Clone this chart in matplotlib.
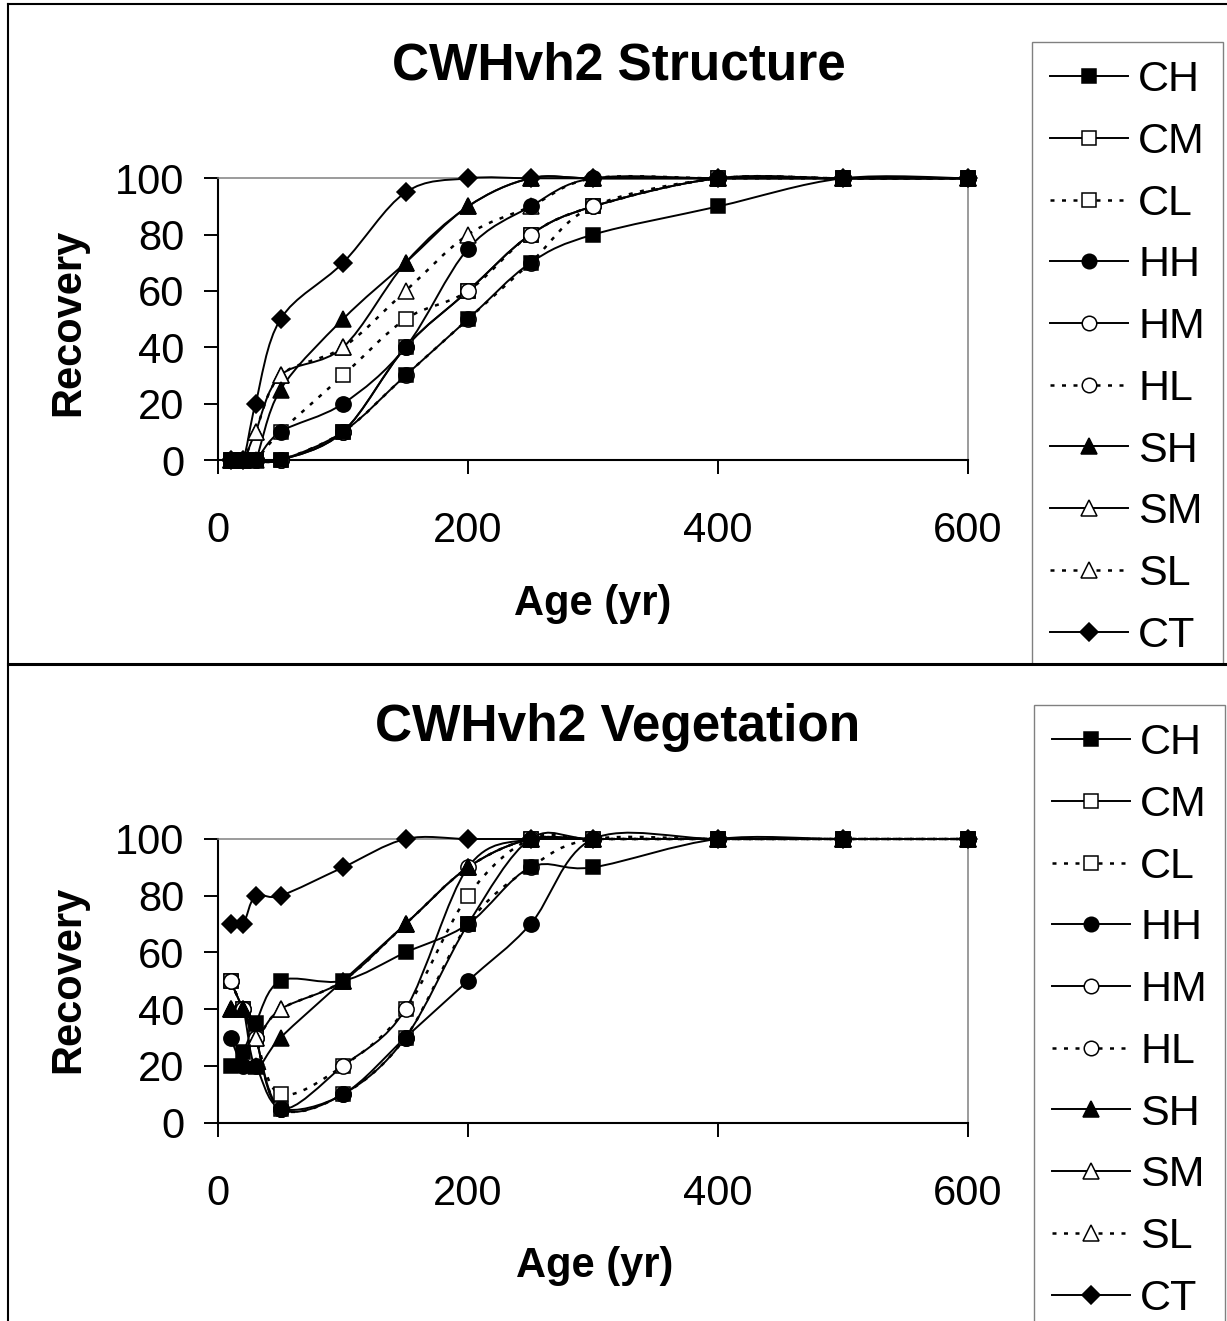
import numpy as np
import matplotlib
matplotlib.use('Agg')
import matplotlib.pyplot as plt
from matplotlib.path import Path
from matplotlib.patches import PathPatch
from matplotlib.lines import Line2D
from matplotlib.transforms import Bbox, TransformedBbox

plt.rcParams['font.family'] = ['Liberation Sans', 'DejaVu Sans']

# stand age (yr)
age = [10, 20, 30, 50, 100, 150, 200, 250, 300, 400, 500, 600]

# CWHvh2 structure recovery
s_ch = [0, 0, 0, 0, 10, 30, 50, 70, 80, 90, 100, 100]
s_cm = [0, 0, 0, 0, 10, 40, 60, 80, 90, 100, 100, 100]
s_cl = [0, 0, 0, 10, 30, 50, 60, 80, 90, 100, 100, 100]
s_hh = [0, 0, 0, 10, 20, 40, 75, 90, 100, 100, 100, 100]
s_hm = [0, 0, 0, 0, 10, 40, 60, 80, 90, 100, 100, 100]
s_hl = [0, 0, 0, 0, 10, 30, 50, 70, 90, 100, 100, 100]
s_sh = [0, 0, 0, 25, 50, 70, 90, 100, 100, 100, 100, 100]
s_sm = [0, 0, 10, 30, 40, 70, 90, 100, 100, 100, 100, 100]
s_sl = [0, 0, 10, 30, 40, 60, 80, 90, 100, 100, 100, 100]
s_ct = [0, 0, 20, 50, 70, 95, 100, 100, 100, 100, 100, 100]

# CWHvh2 vegetation recovery
v_ch = [20, 25, 35, 50, 50, 60, 70, 90, 90, 100, 100, 100]
v_cm = [50, 40, 30, 5, 10, 30, 70, 100, 100, 100, 100, 100]
v_cl = [50, 40, 30, 10, 20, 40, 80, 100, 100, 100, 100, 100]
v_hh = [30, 20, 20, 5, 10, 30, 50, 70, 100, 100, 100, 100]
v_hm = [50, 40, 30, 5, 20, 40, 90, 100, 100, 100, 100, 100]
v_hl = [50, 40, 30, 5, 10, 30, 70, 90, 100, 100, 100, 100]
v_sh = [40, 40, 20, 30, 50, 70, 90, 100, 100, 100, 100, 100]
v_sm = [40, 40, 30, 40, 50, 70, 90, 100, 100, 100, 100, 100]
v_sl = [40, 40, 30, 40, 50, 70, 90, 100, 100, 100, 100, 100]
v_ct = [70, 70, 80, 80, 90, 100, 100, 100, 100, 100, 100, 100]

labels = ['CH', 'CM', 'CL', 'HH', 'HM', 'HL', 'SH', 'SM', 'SL', 'CT']
markers = ['s', 's', 's', 'o', 'o', 'o', '^', '^', '^', 'D']
filled = [True, False, False, True, False, False, True, False, False, True]
dotted = [False, False, True, False, False, True, False, False, True, False]
msizes = {'s': 10.5, 'o': 11, '^': 11.5, 'D': 9.5}

W, H = 1227, 1321
LW = 1.4
DOT_LW = 1.8
DOTS = (0, (1.6, 3.0))


def smooth_path(x, y):
    # excel style smoothed line: catmull-rom as cubic bezier
    pts = np.column_stack([x, y]).astype(float)
    n = len(pts)
    verts = [pts[0]]
    codes = [Path.MOVETO]
    for i in range(n - 1):
        p0 = pts[i - 1] if i > 0 else pts[i]
        p1 = pts[i]
        p2 = pts[i + 1]
        p3 = pts[i + 2] if i + 2 < n else pts[i + 1]
        verts += [p1 + (p2 - p0) / 6, p2 - (p3 - p1) / 6, p2]
        codes += [Path.CURVE4] * 3
    return Path(verts, codes)


def draw_panel(ax, series):
    for k, y in enumerate(series):
        patch = PathPatch(smooth_path(age, y), fill=False, ec='black',
                          lw=DOT_LW if dotted[k] else LW, ls=DOTS if dotted[k] else '-',
                          transform=ax.transData, clip_on=False, zorder=3 + k * 0.01)
        ax.add_patch(patch)
        # open markers underneath, filled ones on top
        z = 5 + k * 0.01 if filled[k] else 4 + k * 0.01
        ax.plot(age, y, ls='none', marker=markers[k], ms=msizes[markers[k]],
                mfc='black' if filled[k] else 'white', mec='black', mew=1.1,
                clip_on=False, zorder=z)
    ax.set_xlim(0, 600)
    ax.set_ylim(0, 100)
    ax.set_xticks([0, 200, 400, 600])
    ax.set_yticks([0, 20, 40, 60, 80, 100])
    for s in ['left', 'bottom']:
        ax.spines[s].set_linewidth(1.5)
        ax.spines[s].set_color('black')
        ax.spines[s].set_zorder(2.5)
    for s in ['top', 'right']:
        ax.spines[s].set_linewidth(1.1)
        ax.spines[s].set_color('#808080')
    ax.tick_params(axis='both', direction='out', length=10, width=1.4, labelsize=30)
    ax.tick_params(axis='x', pad=27)
    ax.tick_params(axis='y', pad=14)


def make_handles():
    hs = []
    for k in range(len(labels)):
        hs.append(Line2D([], [], color='black', lw=DOT_LW if dotted[k] else LW,
                         ls=DOTS if dotted[k] else '-',
                         marker=markers[k], ms=msizes[markers[k]] * 0.95,
                         mfc='black' if filled[k] else 'white', mec='black', mew=1.1))
    return hs


fig = plt.figure(figsize=(W / 100, H / 100), dpi=100)

ax1 = fig.add_axes([218 / W, 1 - 460 / H, 750 / W, 281.7 / H])
draw_panel(ax1, [s_ch, s_cm, s_cl, s_hh, s_hm, s_hl, s_sh, s_sm, s_sl, s_ct])
ax2 = fig.add_axes([218 / W, 1 - 1122.7 / H, 750 / W, 283.7 / H])
draw_panel(ax2, [v_ch, v_cm, v_cl, v_hh, v_hm, v_hl, v_sh, v_sm, v_sl, v_ct])

fig.text(619 / W, 1 - 66 / H, 'CWHvh2 Structure', fontsize=37, fontweight='bold', ha='center', va='center')
fig.text(618 / W, 1 - 727 / H, 'CWHvh2 Vegetation', fontsize=37, fontweight='bold', ha='center', va='center')
fig.text(593 / W, 1 - 604 / H, 'Age (yr)', fontsize=30, fontweight='bold', ha='center', va='center')
fig.text(595 / W, 1 - 1266 / H, 'Age (yr)', fontsize=30, fontweight='bold', ha='center', va='center')
fig.text(68 / W, 1 - 322 / H, 'Recovery', fontsize=30, fontweight='bold', ha='center', va='center', rotation=90)
fig.text(68 / W, 1 - 979 / H, 'Recovery', fontsize=30, fontweight='bold', ha='center', va='center', rotation=90)

legend_kw = dict(loc='upper left', borderaxespad=0, fontsize=31, frameon=True, fancybox=False,
                 edgecolor='#808080', framealpha=1, borderpad=0.42, labelspacing=0.505,
                 handlelength=1.8, handletextpad=0.25, numpoints=1)
leg1 = fig.legend(make_handles(), labels, bbox_to_anchor=(1032 / W, 1 - 42 / H), **legend_kw)
leg1.get_frame().set_linewidth(1.0)
leg1.get_frame().set_clip_on(True)
leg1.get_frame().set_clip_box(TransformedBbox(Bbox([[0, 1 - 664 / H], [1, 1]]), fig.transFigure))
leg2 = fig.legend(make_handles(), labels, bbox_to_anchor=(1034 / W, 1 - 705 / H), **legend_kw)
leg2.get_frame().set_linewidth(1.0)

# chart area borders
fig.add_artist(Line2D([8 / W, 1], [1 - 4 / H, 1 - 4 / H], color='black', lw=1.5, transform=fig.transFigure))
fig.add_artist(Line2D([8 / W, 8 / W], [0, 1 - 4 / H], color='black', lw=1.5, transform=fig.transFigure))
fig.add_artist(Line2D([8 / W, 1], [1 - 664 / H, 1 - 664 / H], color='black', lw=2.2,
                      transform=fig.transFigure, zorder=10))

fig.savefig('out.png', dpi=100)
